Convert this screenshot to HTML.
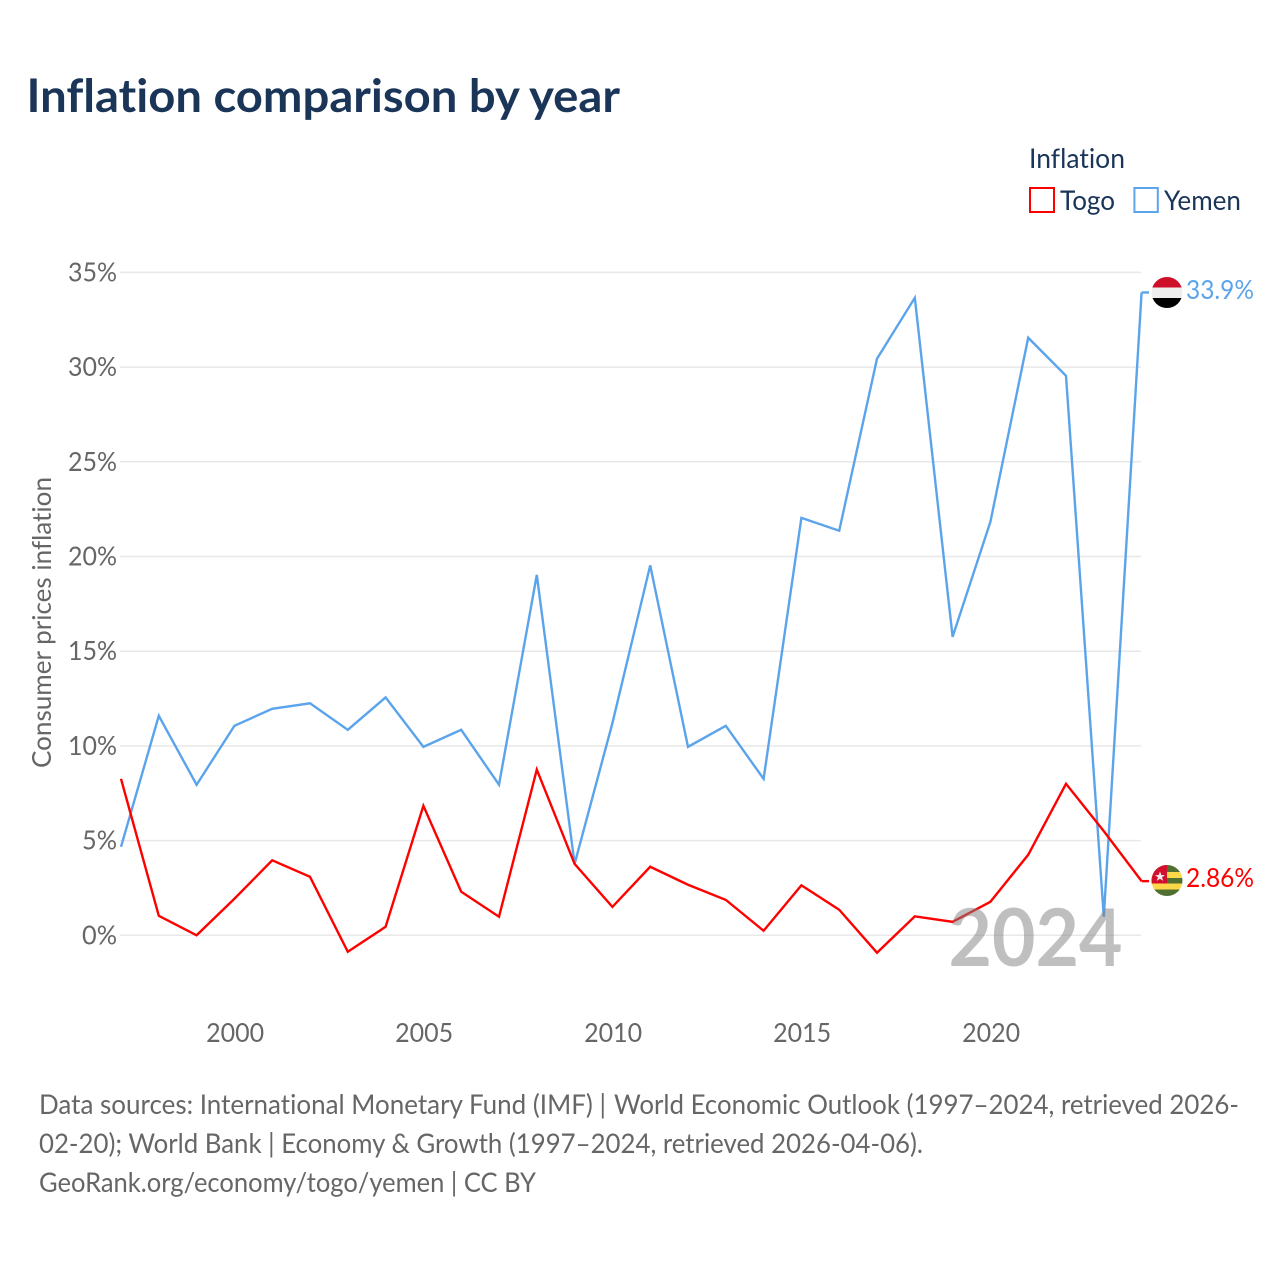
<!DOCTYPE html>
<html lang="en">
<head>
<meta charset="utf-8">
<title>Inflation comparison by year</title>
<style>
html,body{margin:0;padding:0;background:#fff;width:1280px;height:1280px;overflow:hidden}
svg{display:block}
text{font-family:"Lato","Carlito","Liberation Sans",sans-serif;font-variant-ligatures:none;font-feature-settings:"liga" 0,"clig" 0}
</style>
</head>
<body>
<svg id="chart" width="1280" height="1280" viewBox="0 0 1280 1280" xmlns="http://www.w3.org/2000/svg">
  <defs>
    <clipPath id="flag-clip-yemen"><circle cx="1167" cy="292.5" r="15.5"/></clipPath>
    <clipPath id="flag-clip-togo"><circle cx="1167" cy="880.5" r="15.5"/></clipPath>
  </defs>
  <rect width="1280" height="1280" fill="#fff"/>
  <text x="26.5" y="112" font-size="46" font-weight="700" fill="#1a3557" textLength="593.5" lengthAdjust="spacingAndGlyphs">Inflation comparison by year</text>

  <g>
    <text x="1029" y="168" font-size="27" fill="#1a3557" textLength="96" lengthAdjust="spacingAndGlyphs">Inflation</text>
    <rect x="1030" y="188" width="24" height="24" fill="#fff" stroke="#ff0000" stroke-width="2"/>
    <text x="1060" y="210" font-size="27" fill="#1a3557" textLength="55" lengthAdjust="spacingAndGlyphs">Togo</text>
    <rect x="1134.4" y="188" width="23.4" height="24" fill="#fff" stroke="#5ba4ec" stroke-width="2"/>
    <text x="1164" y="210" font-size="27" fill="#1a3557" textLength="77" lengthAdjust="spacingAndGlyphs">Yemen</text>
  </g>

  <text transform="translate(51,768) rotate(-90)" font-size="26" fill="#666" textLength="291" lengthAdjust="spacingAndGlyphs">Consumer prices inflation</text>

  <g id="grid"></g>
  <g id="y-ticks"></g>
  <g id="x-ticks"></g>
  <g id="series"></g>

  <g clip-path="url(#flag-clip-yemen)">
    <rect x="1151" y="277" width="32" height="10.5" fill="#ce0f2a"/>
    <rect x="1151" y="287.5" width="32" height="10.5" fill="#eeeeee"/>
    <rect x="1151" y="298" width="32" height="11" fill="#000"/>
  </g>
  <g clip-path="url(#flag-clip-togo)">
    <rect x="1151" y="865" width="32" height="7" fill="#4f7030"/>
    <rect x="1151" y="872" width="32" height="6" fill="#ffd84a"/>
    <rect x="1151" y="878" width="32" height="5.5" fill="#4f7030"/>
    <rect x="1151" y="883.5" width="32" height="6" fill="#ffd84a"/>
    <rect x="1151" y="889.5" width="32" height="7" fill="#4f7030"/>
    <rect x="1151" y="865" width="16" height="18.5" fill="#d2102e"/>
    <polygon points="1160,871.5 1161.4,875.1 1165,875.1 1162,877.3 1163.2,880.9 1160,878.7 1156.8,880.9 1158,877.3 1155,875.1 1158.6,875.1" fill="#eee"/>
  </g>
  <text id="end-label-yemen" x="1186" y="299" font-size="26" fill="#5ba4ec" textLength="68" lengthAdjust="spacingAndGlyphs"></text>
  <text id="end-label-togo" x="1186" y="887" font-size="26" fill="#ff0000" textLength="68" lengthAdjust="spacingAndGlyphs"></text>

  <text x="948.5" y="966" font-size="80" font-weight="700" fill="#808080" fill-opacity="0.5" textLength="174" lengthAdjust="spacingAndGlyphs">2024</text>

  <g font-size="27" fill="#666">
    <text x="39" y="1114" textLength="567" lengthAdjust="spacingAndGlyphs" fill="#666">Data sources: International Monetary Fund (IMF) |</text>
    <text x="614" y="1114" textLength="625" lengthAdjust="spacingAndGlyphs" fill="#666">World Economic Outlook (1997–2024, retrieved 2026-</text>
    <text x="39" y="1153" textLength="884" lengthAdjust="spacingAndGlyphs" fill="#666">02-20); World Bank | Economy &amp; Growth (1997–2024, retrieved 2026-04-06).</text>
    <text x="39" y="1192" textLength="497" lengthAdjust="spacingAndGlyphs" fill="#666">GeoRank.org/economy/togo/yemen | CC BY</text>
  </g>
</svg>
<script>
const years = [1997,1998,1999,2000,2001,2002,2003,2004,2005,2006,2007,2008,2009,2010,2011,2012,2013,2014,2015,2016,2017,2018,2019,2020,2021,2022,2023,2024];
const togoValues = [8.26,1.03,0,1.93,3.96,3.09,-0.87,0.45,6.84,2.3,0.98,8.75,3.77,1.5,3.62,2.67,1.87,0.24,2.64,1.35,-0.92,1.0,0.71,1.77,4.25,8.0,5.5,2.86];
const yemenValues = [4.67,11.59,7.95,11.06,11.96,12.25,10.85,12.56,9.95,10.85,7.95,19.03,3.77,11.2,19.53,9.95,11.06,8.26,22.04,21.36,30.44,33.66,15.76,21.83,31.55,29.54,0.98,33.94];
const yTicks = [0,5,10,15,20,25,30,35];
const xTicks = [2000,2005,2010,2015,2020];
const togoEndLabel = '2.86%';
const yemenEndLabel = '33.9%';

const NS = 'http://www.w3.org/2000/svg';
function xScale(year){ return 121 + (year - 1997) * (1141.6 - 121) / 27; }
function yScale(value){ return 935.3 - value * 18.94; }
function make(tag, attrs, parent){
  const el = document.createElementNS(NS, tag);
  for (const k in attrs) el.setAttribute(k, attrs[k]);
  parent.appendChild(el);
  return el;
}

const gridG = document.getElementById('grid');
const yG = document.getElementById('y-ticks');
const xG = document.getElementById('x-ticks');
const seriesG = document.getElementById('series');

yTicks.forEach(function(t){
  const line = make('line', {x1:120, x2:1141, y1:yScale(t), y2:yScale(t), stroke:'#e8e8e8', 'stroke-width':1.5}, gridG);
  
  
  const label = make('text', {x:117, y:yScale(t)+9, 'text-anchor':'end', 'font-size':26, fill:'#666', textLength: t < 10 ? 35 : 49, lengthAdjust:'spacingAndGlyphs'}, yG);
  
  
  label.textContent = t + '%';
});

xTicks.forEach(function(t){
  const label = make('text', {x:xScale(t)+0.7, y:1042, 'text-anchor':'middle', 'font-size':26, fill:'#666', textLength:58, lengthAdjust:'spacingAndGlyphs'}, xG);
  
  
  label.textContent = t;
});

function linePath(values){
  return values.map(function(v, i){
    return (i ? 'L' : 'M') + xScale(years[i]).toFixed(2) + ' ' + yScale(v).toFixed(2);
  }).join(' ');
}

const yemenLine = make('path', {d:linePath(yemenValues), fill:'none', stroke:'#5ba4ec', 'stroke-width':2.4, 'stroke-linejoin':'miter'}, seriesG);


const togoLine = make('path', {d:linePath(togoValues), fill:'none', stroke:'#ff0000', 'stroke-width':2.4, 'stroke-linejoin':'miter'}, seriesG);



const lastYemenY = yScale(yemenValues[yemenValues.length - 1]);
const lastTogoY = yScale(togoValues[togoValues.length - 1]);
const yemenLead = make('line', {x1:xScale(2024), x2:1149, y1:lastYemenY, y2:lastYemenY, stroke:'#5ba4ec', 'stroke-width':2.4}, seriesG);


const togoLead = make('line', {x1:xScale(2024), x2:1149, y1:lastTogoY, y2:lastTogoY, stroke:'#ff0000', 'stroke-width':2.4}, seriesG);



document.getElementById('end-label-yemen').textContent = yemenEndLabel;
document.getElementById('end-label-togo').textContent = togoEndLabel;
</script>
</body>
</html>
